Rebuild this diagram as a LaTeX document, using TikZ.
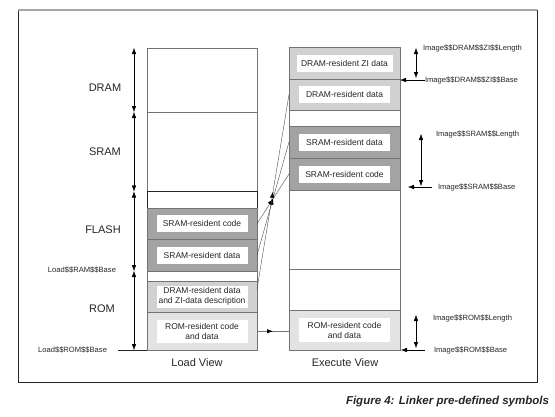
\documentclass[tikz,border=0pt]{standalone}
\usepackage{fontspec}
\setmainfont{Liberation Sans}
\usetikzlibrary{arrows.meta,decorations.markings}

\definecolor{darkfill}{gray}{0.64}
\definecolor{lightfill}{gray}{0.82}
\definecolor{palefill}{gray}{0.89}
\definecolor{edgegray}{gray}{0.45}

\begin{document}
\begin{tikzpicture}[
		x=1pt, y=-1pt,
		every node/.style={inner sep=0pt, outer sep=0pt, text=black!85},
		region/.style={rectangle, draw=edgegray, anchor=north west, minimum width=110pt},
		tag/.style={rectangle, fill=white, font=\fontsize{8.5}{10}\selectfont, minimum width=91pt, minimum height=17pt, inner sep=2pt, align=center},
		memname/.style={font=\fontsize{11}{13}\selectfont},
		symname/.style={font=\fontsize{7.6}{9}\selectfont},
		tip/.style={-{Latex[length=6pt, width=4.5pt]}},
		span/.style={{Latex[length=6pt, width=4.5pt]}-{Latex[length=6pt, width=4.5pt]}},
		midarrow/.style={postaction={decorate}, decoration={markings, mark=at position 0.5 with {\arrow[black]{Latex[length=6pt, width=4.5pt]}}}}
	]
  \useasboundingbox (0,0) rectangle (555,416);
  \draw[black!85] (18,10) -- (18,382) -- (537,382) -- (537,10);
  \draw[gray!70, line width=1.2pt] (18,10) -- (537,10);

  \node (ld_dram) [region, minimum height=64pt] at (147,48) {};
  \node (ld_sram) [region, minimum height=79pt] at (147,112) {};
  \node (ld_gap) [region, minimum height=17pt, draw=black!85] at (147,191) {};
  \node (ld_scode) [region, minimum height=31.5pt, fill=darkfill] at (147,208) {};
  \node (ld_sdata) [region, minimum height=31.5pt, fill=darkfill] at (147,239.5) {};
  \node (ld_gap2) [region, minimum height=10pt] at (147,271) {};
  \node (ld_ddata) [region, minimum height=31.5pt, fill=lightfill] at (147,281) {};
  \node (ld_rom) [region, minimum height=37.5pt, fill=palefill] at (147,312.5) {};

  \node (ex_zi) [region, minimum width=111pt, minimum height=32pt, fill=lightfill] at (289,47) {};
  \node (ex_ddata) [region, minimum width=111pt, minimum height=31pt, fill=lightfill] at (289,79) {};
  \node (ex_gap) [region, minimum width=111pt, minimum height=16pt] at (289,110) {};
  \node (ex_sdata) [region, minimum width=111pt, minimum height=32pt, fill=darkfill] at (289,126) {};
  \node (ex_scode) [region, minimum width=111pt, minimum height=32pt, fill=darkfill] at (289,158) {};
  \node (ex_free) [region, minimum width=111pt, minimum height=79pt] at (289,190) {};
  \node (ex_free2) [region, minimum width=111pt, minimum height=41pt] at (289,269) {};
  \node (ex_rom) [region, minimum width=111pt, minimum height=40pt, fill=palefill] at (289,310) {};

  \node (t_ld_scode) [tag] at (ld_scode) {SRAM-resident code};
  \node (t_ld_sdata) [tag] at (ld_sdata) {SRAM-resident data};
  \node (t_ld_ddata) [tag, minimum height=22pt] at (ld_ddata) {DRAM-resident data\\and ZI-data description};
  \node (t_ld_rom) [tag, minimum height=23pt] at (ld_rom) {ROM-resident code\\and data};
  \node (t_ex_zi) [tag, minimum width=96pt] at (ex_zi) {DRAM-resident ZI data};
  \node (t_ex_ddata) [tag] at (ex_ddata) {DRAM-resident data};
  \node (t_ex_sdata) [tag] at (ex_sdata) {SRAM-resident data};
  \node (t_ex_scode) [tag] at (ex_scode) {SRAM-resident code};
  \node (t_ex_rom) [tag, minimum height=24pt] at (ex_rom) {ROM-resident code\\and data};

  \node (n_dram) [memname] at (105,88) {DRAM};
  \node (n_sram) [memname] at (105,152) {SRAM};
  \node (n_flash) [memname] at (103,230) {FLASH};
  \node (n_rom) [memname] at (102,309) {ROM};
  \node (n_load) [memname] at (197,363) {Load View};
  \node (n_exec) [memname] at (345,363) {Execute View};

  \coordinate (s0) at (134,48);
  \coordinate (s1) at (134,112);
  \coordinate (s2) at (134,191.5);
  \coordinate (s3) at (134,271);
  \coordinate (s4) at (134,350);
  \draw[span] (s0) -- (s1);
  \draw[span] (s1) -- (s2);
  \draw[span] (s2) -- (s3);
  \draw[span] (s3) -- (s4);

  \node (ramload) [symname, anchor=east] at (116,270) {Load\$\$RAM\$\$Base};
  \node (romload) [symname, anchor=east] at (107,350) {Load\$\$ROM\$\$Base};
  \draw[black!85] ([xshift=11pt]romload.east) -- (ld_rom.south west);

  \draw[black!70, midarrow] (ld_scode.east) -- (ex_scode.west);
  \draw[black!70, midarrow] (ld_sdata.east) -- (ex_sdata.west);
  \draw[black!70, midarrow] (ld_ddata.8) -- (ex_ddata.west);
  \draw[edgegray, line width=0.6pt, midarrow] (ld_rom.east) -- (ld_rom.east -| ex_rom.west);

  \node (zilen) [symname, anchor=west] at (423,48) {Image\$\$DRAM\$\$ZI\$\$Length};
  \node (zibase) [symname, anchor=west] at (425,80) {Image\$\$DRAM\$\$ZI\$\$Base};
  \node (sramlen) [symname, anchor=west] at (436,134) {Image\$\$SRAM\$\$Length};
  \node (srambase) [symname, anchor=west] at (438,187) {Image\$\$SRAM\$\$Base};
  \node (romlen) [symname, anchor=west] at (433,318) {Image\$\$ROM\$\$Length};
  \node (rombase) [symname, anchor=west] at (434,350) {Image\$\$ROM\$\$Base};

  \coordinate (zi_top) at (416,48);
  \coordinate (zi_bot) at (416,78);
  \coordinate (sr_top) at (421,134);
  \coordinate (sr_bot) at (421,186);
  \coordinate (ro_top) at (416,315);
  \coordinate (ro_bot) at (416,348);
  \draw[span] (zi_top) -- (zi_bot);
  \draw[span] (sr_top) -- (sr_bot);
  \draw[span] (ro_top) -- (ro_bot);

  \draw[tip] (zibase.west) -- (zibase.west -| ex_zi.east);
  \draw[tip, shorten <=6pt, shorten >=8pt] (srambase.west) -- (srambase.west -| ex_scode.east);
  \draw[tip, shorten <=9pt, shorten >=1pt] (rombase.west) -- (rombase.west -| ex_rom.east);

  \node (caption) [anchor=east, font=\fontsize{11.5}{14}\selectfont\bfseries\itshape] at (549,402) {Figure 4: Linker pre-defined symbols};
\end{tikzpicture}
\end{document}
